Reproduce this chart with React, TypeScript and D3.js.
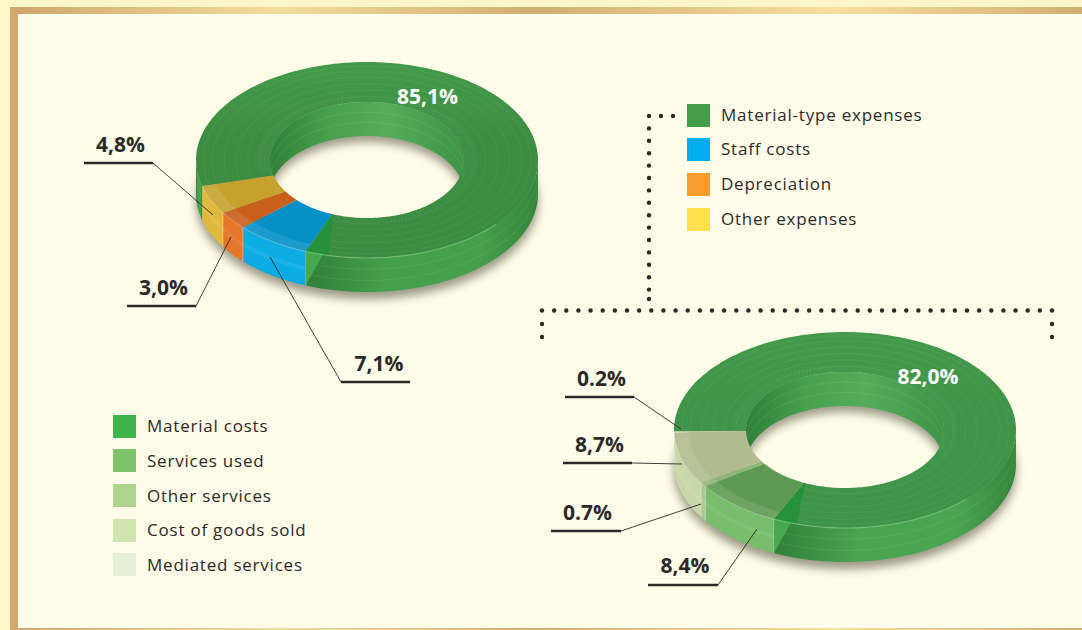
import React from "react";
import * as d3 from "d3";

const expenseShares = [7.1, 3.0, 4.8, 85.1];
const expenseLabels = ["7,1%", "3,0%", "4,8%", "85,1%"];
const expenseTop = ["#0590c8", "#c8601c", "#c6a22c", "#3c8c42"];
const expenseSide = ["#0cace4", "#e5762a", "#e0b83c", "#45a04c"];

const materialShares = [8.4, 0.7, 8.7, 0.2, 82.0];
const materialLabels = ["8,4%", "0.7%", "8,7%", "0.2%", "82,0%"];
const materialTop = ["#5f9a55", "#8fb578", "#b2bb8e", "#c2cca4", "#3e9448"];
const materialSide = ["#78bd6c", "#a6cb8c", "#c9d6a8", "#d4dfb8", "#49a551"];

const legendTop = ["Material-type expenses", "Staff costs", "Depreciation", "Other expenses"];
const legendTopColors = ["#439e47", "#00aeef", "#f99d31", "#ffe14d"];
const legendBottom = ["Material costs", "Services used", "Other services", "Cost of goods sold", "Mediated services"];
const legendBottomColors = ["#3db54a", "#7cc36a", "#acd48a", "#cfe4b0", "#e6f0d5"];

const INK = "#2b2a29";
const FONT = "'Open Sans', sans-serif";
const TAU = Math.PI * 2;
const deg = (d: number) => (d * Math.PI) / 180;

type Ring = { id: string; cx: number; cy: number; rx: number; ry: number; irx: number; iry: number; depth: number; start: number };
const ringA: Ring = { id: "a", cx: 367, cy: 160, rx: 171, ry: 98, irx: 97, iry: 58, depth: 34, start: deg(201) };
const ringB: Ring = { id: "b", cx: 845, cy: 430, rx: 171, ry: 98, irx: 99, iry: 58, depth: 34, start: deg(204.5) };

const line = d3.line();

function pt(r: Ring, t: number, a: number, z = 0): [number, number] {
  const x = r.irx + t * (r.rx - r.irx);
  const y = r.iry + t * (r.ry - r.iry);
  return [r.cx + x * Math.sin(a), r.cy - y * Math.cos(a) + z];
}
function arc(r: Ring, t: number, a0: number, a1: number, z = 0) {
  const n = Math.max(2, Math.ceil(Math.abs(a1 - a0) / deg(1.5)));
  return d3.range(n + 1).map((i) => pt(r, t, a0 + ((a1 - a0) * i) / n, z));
}
function band(r: Ring, t0: number, t1: number, a0: number, a1: number) {
  return line([...arc(r, t1, a0, a1), ...arc(r, t0, a1, a0)]) + "Z";
}
function wall(r: Ring, t: number, a0: number, a1: number) {
  return line([...arc(r, t, a0, a1), ...arc(r, t, a1, a0, r.depth)]) + "Z";
}
// clip an angular range to a window repeated every full turn
function clip(a0: number, a1: number, w0: number, w1: number): [number, number][] {
  const out: [number, number][] = [];
  for (let k = -1; k <= 2; k++) {
    const lo = Math.max(a0, w0 + k * TAU);
    const hi = Math.min(a1, w1 + k * TAU);
    if (hi > lo) out.push([lo, hi]);
  }
  return out;
}

function Donut({ ring, shares, labels, top, side, labelPos }: { ring: Ring; shares: number[]; labels: string[]; top: string[]; side: string[]; labelPos: [number, number] }) {
  const pie = d3.pie<number>().sort(null).value((d) => d).startAngle(ring.start).endAngle(ring.start + TAU);
  const slices = pie(shares);
  const last = slices[slices.length - 1];
  const big = shares.length - 1;
  const { id } = ring;
  const arcsT = [0.14, 0.3, 0.46, 0.62, 0.78, 0.9];
  const hatch = d3.range(last.startAngle + deg(2), last.endAngle - deg(1), deg(2.2));
  const g0 = last.endAngle;
  const outer = d3.range(0, TAU, deg(2)).map((a) => pt(ring, 1, a, ring.depth + 7));
  const inner = d3.range(0, TAU, deg(2)).map((a) => pt(ring, 0, a, ring.depth + 6));
  return (
    <g>
      <defs>
        <linearGradient id={`side${id}`} x1="0" x2="1" y1="0" y2="0">
          <stop offset="0" stopColor="#317f39" />
          <stop offset="0.35" stopColor={side[big]} />
          <stop offset="0.75" stopColor={side[big]} />
          <stop offset="1" stopColor="#35863d" />
        </linearGradient>
        <linearGradient id={`wall${id}`} x1="0" x2="1" y1="0" y2="0">
          <stop offset="0" stopColor="#2f8138" />
          <stop offset="0.3" stopColor="#46a04e" />
          <stop offset="0.6" stopColor="#54ad5b" />
          <stop offset="1" stopColor="#3f9447" />
        </linearGradient>
        <linearGradient id={`top${id}`} x1="0" x2="0" y1="0" y2="1">
          <stop offset="0" stopColor="#449a4b" />
          <stop offset="0.45" stopColor={top[big]} />
          <stop offset="1" stopColor={top[big]} />
        </linearGradient>
        <filter id={`blur${id}`} x="-20%" y="-20%" width="140%" height="140%">
          <feGaussianBlur stdDeviation="5" />
        </filter>
      </defs>
      <path d={line(outer) + "Z " + line(inner) + "Z"} fillRule="evenodd" fill="#4a4636" opacity={0.55} filter={`url(#blur${id})`} />

      {slices.map((s, i) =>
        clip(s.startAngle, s.endAngle, deg(-90), deg(90)).map(([a, b], k) => (
          <path key={`w${i}${k}`} d={wall(ring, 0, a, b)} fill={i === big ? `url(#wall${id})` : side[i]} />
        ))
      )}
      {slices.map((s, i) =>
        clip(s.startAngle, s.endAngle, deg(90), deg(270)).map(([a, b], k) => (
          <path key={`s${i}${k}`} d={wall(ring, 1, a, b)} fill={i === big ? `url(#side${id})` : side[i]} />
        ))
      )}
      {slices.map((s, i) => (
        <path key={`t${i}`} d={band(ring, 0, 1, s.startAngle, s.endAngle)} fill={i === big ? `url(#top${id})` : top[i]} />
      ))}

      {/* faint contour lines on the large slice */}
      <g fill="none" stroke="#fff" strokeWidth={0.6}>
        {arcsT.map((t) => (
          <path key={t} d={line(arc(ring, t, last.startAngle + deg(1), last.endAngle - deg(1))) ?? ""} opacity={0.1} />
        ))}
        {hatch.map((a) => (
          <path key={a} d={line([pt(ring, 0, a), pt(ring, 0.2, a + deg(3))]) ?? ""} opacity={0.09} />
        ))}
        {clip(last.startAngle, last.endAngle, deg(-90), deg(90)).map(([a, b]) =>
          [0.3, 0.6].map((f) => <path key={`${a}${f}`} d={line(arc(ring, 0, a, b, ring.depth * f)) ?? ""} opacity={0.14} />)
        )}
        {clip(last.startAngle, last.endAngle, deg(90), deg(270)).map(([a, b]) =>
          [0.33, 0.66].map((f) => <path key={`${a}${f}`} d={line(arc(ring, 1, a, b, ring.depth * f)) ?? ""} opacity={0.13} />)
        )}
      </g>

      {/* glassy edges of the small slices */}
      {slices.slice(0, big).map((s, i) => (
        <g key={`g${i}`}>
          <path d={band(ring, 0.8, 1, s.startAngle, s.endAngle)} fill="#fff" opacity={0.09} />
          <path d={line(arc(ring, 1, s.startAngle, s.endAngle)) ?? ""} fill="none" stroke="#fff" strokeWidth={1} opacity={0.3} />
          <path d={line(arc(ring, 1, s.startAngle, s.endAngle, ring.depth * 0.5)) ?? ""} fill="none" stroke="#fff" strokeWidth={4} opacity={0.07} />
          <path d={line([pt(ring, 1, s.startAngle), pt(ring, 1, s.startAngle, ring.depth)]) ?? ""} fill="none" stroke="#fff" strokeWidth={1} opacity={0.35} />
        </g>
      ))}

      {/* sliver on the large slice, next to the first small slice */}
      <path d={line([pt(ring, 0, g0), pt(ring, 1, g0), pt(ring, 1, g0 - deg(8)), pt(ring, 0, g0 - deg(1))]) + "Z"} fill="#22903a" opacity={0.85} />
      <path d={line([pt(ring, 1, g0), pt(ring, 1, g0 - deg(6)), pt(ring, 1, g0, ring.depth)]) + "Z"} fill="#49b054" opacity={0.85} />
      <path d={line(arc(ring, 1, g0, g0 - deg(70))) ?? ""} fill="none" stroke="#8fcf92" strokeWidth={1.2} opacity={0.55} />

      <text x={labelPos[0]} y={labelPos[1]} fontFamily={FONT} fontWeight={700} fontSize={21} fill="#fff" textAnchor="middle">
        {labels[big]}
      </text>
    </g>
  );
}

type Callout = { label: string; x0: number; x1: number; y: number; tx: number; ty: number; px: number; py: number; fromLeft?: boolean };
const callouts: Callout[] = [
  { label: expenseLabels[2], x0: 84, x1: 153, y: 163, tx: 120.5, ty: 152, px: 213, py: 215 },
  { label: expenseLabels[1], x0: 127, x1: 196, y: 306, tx: 163.5, ty: 295, px: 231, py: 237 },
  { label: expenseLabels[0], x0: 341, x1: 410, y: 382, tx: 379, ty: 371, px: 270, py: 257, fromLeft: true },
  { label: materialLabels[3], x0: 565, x1: 634, y: 397, tx: 601.5, ty: 386, px: 681, py: 429 },
  { label: materialLabels[2], x0: 563, x1: 632, y: 463, tx: 599.5, ty: 452, px: 682, py: 464 },
  { label: materialLabels[1], x0: 551, x1: 621, y: 531, tx: 587.5, ty: 520, px: 701, py: 504 },
  { label: materialLabels[0], x0: 648, x1: 718, y: 585, tx: 685, ty: 573, px: 757, py: 529 },
];

function Legend({ items, colors, x, ys, bases }: { items: string[]; colors: string[]; x: number; ys: number[]; bases: number[] }) {
  return (
    <g>
      {items.map((t, i) => (
        <g key={t}>
          <rect x={x} y={ys[i]} width={23} height={23} fill={colors[i]} />
          <text x={x + 34} y={bases[i]} fontFamily={FONT} fontSize={17} letterSpacing={0.78} fill={INK}>
            {t}
          </text>
        </g>
      ))}
    </g>
  );
}

const topLegendY = [104, 138, 173, 208];
const topLegendBase = [121, 155, 190, 225];
const bottomLegendY = [415, 449, 484, 519, 553];
const bottomLegendBase = [432, 467, 502, 536, 571];

const dots: [number, number][] = [
  ...[661, 673].map((x) => [x, 116] as [number, number]),
  ...d3.range(116, 292, 12.4).map((y) => [649, y] as [number, number]),
  [649, 299],
  ...d3.range(43).map((i) => [542 + (i * 510) / 42, 310.5] as [number, number]),
  [542, 324], [542, 337], [1052, 324], [1052, 337],
];

export default function App() {
  return (
    <svg width={1082} height={630} viewBox="0 0 1082 630" style={{ position: "absolute", left: 0, top: 0, display: "block" }}>
      <defs>
        <linearGradient id="frame" gradientUnits="userSpaceOnUse" x1={10} x2={1082} y1={0} y2={0}>
          <stop offset="0" stopColor="#cfa66c" />
          <stop offset="0.25" stopColor="#f2dc9e" />
          <stop offset="0.49" stopColor="#d2ad74" />
          <stop offset="0.77" stopColor="#f7dfa0" />
          <stop offset="1" stopColor="#d2ad74" />
        </linearGradient>
      </defs>
      <rect width={1082} height={630} fill="#fff6c8" />
      <rect x={10} y={7} width={1072} height={623} fill="url(#frame)" />
      <rect x={10} y={7} width={8} height={623} fill="#d0a86e" />
      <rect x={18} y={14} width={1064} height={614} fill="#fffce9" />

      <Donut ring={ringA} shares={expenseShares} labels={expenseLabels} top={expenseTop} side={expenseSide} labelPos={[427.5, 104]} />
      <Donut ring={ringB} shares={materialShares} labels={materialLabels} top={materialTop} side={materialSide} labelPos={[928, 384]} />

      {callouts.map((c) => (
        <g key={c.label + c.x0}>
          <line x1={c.x0} x2={c.x1} y1={c.y} y2={c.y} stroke={INK} strokeWidth={2.5} />
          <line x1={c.fromLeft ? c.x0 : c.x1} y1={c.y} x2={c.px} y2={c.py} stroke={INK} strokeWidth={0.9} />
          <text x={c.tx} y={c.ty} fontFamily={FONT} fontWeight={700} fontSize={21} fill={INK} textAnchor="middle">
            {c.label}
          </text>
        </g>
      ))}

      <Legend items={legendTop} colors={legendTopColors} x={687} ys={topLegendY} bases={topLegendBase} />
      <Legend items={legendBottom} colors={legendBottomColors} x={113} ys={bottomLegendY} bases={bottomLegendBase} />

      {dots.map(([x, y], i) => (
        <circle key={i} cx={x} cy={y} r={2.2} fill={INK} />
      ))}
    </svg>
  );
}
